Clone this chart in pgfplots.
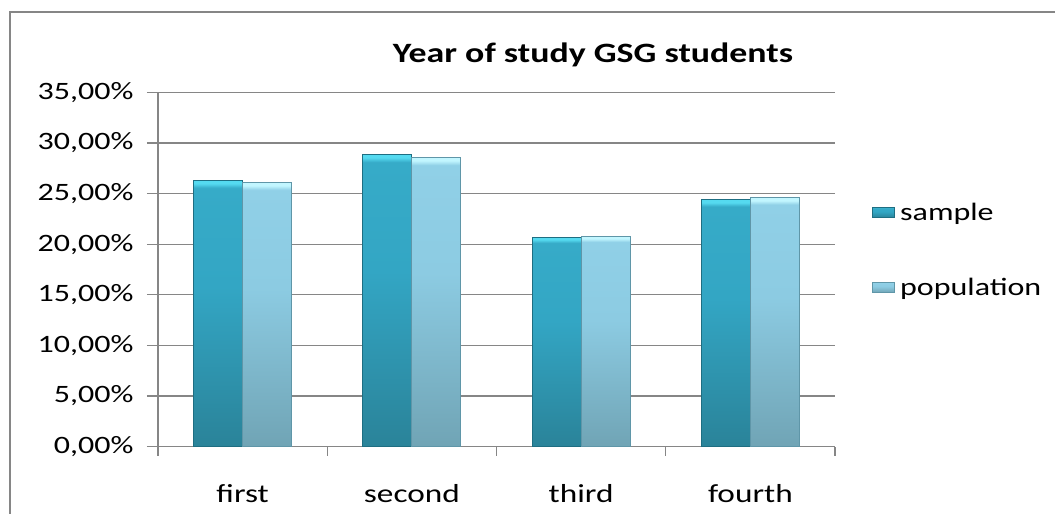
\documentclass[border=0pt]{standalone}
\usepackage{pgfplots}
\pgfplotsset{compat=1.18}
\usepackage{fontspec}
\setmainfont[FakeStretch=1.28]{Carlito}
\definecolor{gridc}{HTML}{868686}
\definecolor{sb}{HTML}{2A8399}
\definecolor{sm}{HTML}{33A6C4}
\definecolor{st}{HTML}{36ABC8}
\definecolor{sh}{HTML}{55DAF0}
\definecolor{sedge}{HTML}{1E6E82}
\definecolor{pb}{HTML}{70A4B5}
\definecolor{pm}{HTML}{8CCBE2}
\definecolor{pt}{HTML}{90D0E7}
\definecolor{ph}{HTML}{C2F6FF}
\definecolor{pedge}{HTML}{5F96A8}
\pgfdeclareverticalshading{samplesh}{100bp}{color(0bp)=(sb); color(25bp)=(sb); color(55bp)=(sm); color(73.6bp)=(st); color(74.4bp)=(sh); color(75bp)=(sh); color(100bp)=(sh)}
\pgfdeclareverticalshading{popsh}{100bp}{color(0bp)=(pb); color(25bp)=(pb); color(55bp)=(pm); color(73.6bp)=(pt); color(74.4bp)=(ph); color(75bp)=(ph); color(100bp)=(ph)}
\begin{document}
\begin{tikzpicture}[x=1pt,y=1pt]
\path[use as bounding box] (-158,-67.3) rectangle (897,446.7);
\draw[gridc, line width=1.5pt] (-148,-80) -- (-148,434.7) -- (910,434.7);
\begin{axis}[
  at={(0,0)}, anchor=south west, scale only axis,
  width=677pt, height=354.4pt,
  xmin=-0.5, xmax=3.5, ymin=0, ymax=35,
  ybar=0pt, bar width=49pt,
  axis x line*=bottom, axis y line*=left,
  axis line style={draw=gridc, line width=1.2pt, -},
  ytick={0,5,...,35},
  yticklabels={{0,00\%},{5,00\%},{10,00\%},{15,00\%},{20,00\%},{25,00\%},{30,00\%},{35,00\%}},
  ymajorgrids, grid style={draw=gridc, line width=1.2pt},
  xtick={0,1,2,3}, xticklabels={first,second,third,fourth},
  minor xtick={-0.5,0.5,1.5,2.5,3.5},
  tick align=outside,
  major tick length=11pt, minor tick length=9pt,
  major x tick style={draw=none},
  minor x tick style={draw=gridc, line width=1.2pt},
  major y tick style={draw=gridc, line width=1.2pt},
  yticklabel style={font=\fontsize{25}{30}\selectfont, xshift=-10pt},
  xticklabel style={font=\fontsize{26}{31}\selectfont, yshift=-23pt},
  title={Year of study GSG students},
  title style={font=\fontsize{28}{34}\selectfont\bfseries, at={(0.6425,1)}, anchor=base, yshift=24pt},
  legend style={at={(1.0546,0.555)}, anchor=west, draw=none, fill=none, inner sep=0pt,
    font=\fontsize{25}{30}\selectfont, row sep=52pt, column sep=3pt, nodes={inner sep=2pt}},
  legend cell align=left,
  legend image code/.code={\draw[#1] (0pt,-5pt) rectangle (22pt,5pt);},
  sample/.style={shading=samplesh, draw=sedge, line width=1pt, bar shift=-24.5pt},
  pop/.style={shading=popsh, draw=pedge, line width=1pt, bar shift=24.5pt},
]
\addplot[sample] coordinates {(0,26.3)};
\addlegendentry{sample}
\addplot[pop] coordinates {(0,26.1)};
\addlegendentry{population}
\addplot[sample, forget plot] coordinates {(1,28.9)};
\addplot[sample, forget plot] coordinates {(2,20.7)};
\addplot[sample, forget plot] coordinates {(3,24.4)};
\addplot[pop, forget plot] coordinates {(1,28.6)};
\addplot[pop, forget plot] coordinates {(2,20.8)};
\addplot[pop, forget plot] coordinates {(3,24.6)};
\end{axis}
\end{tikzpicture}
\end{document}
